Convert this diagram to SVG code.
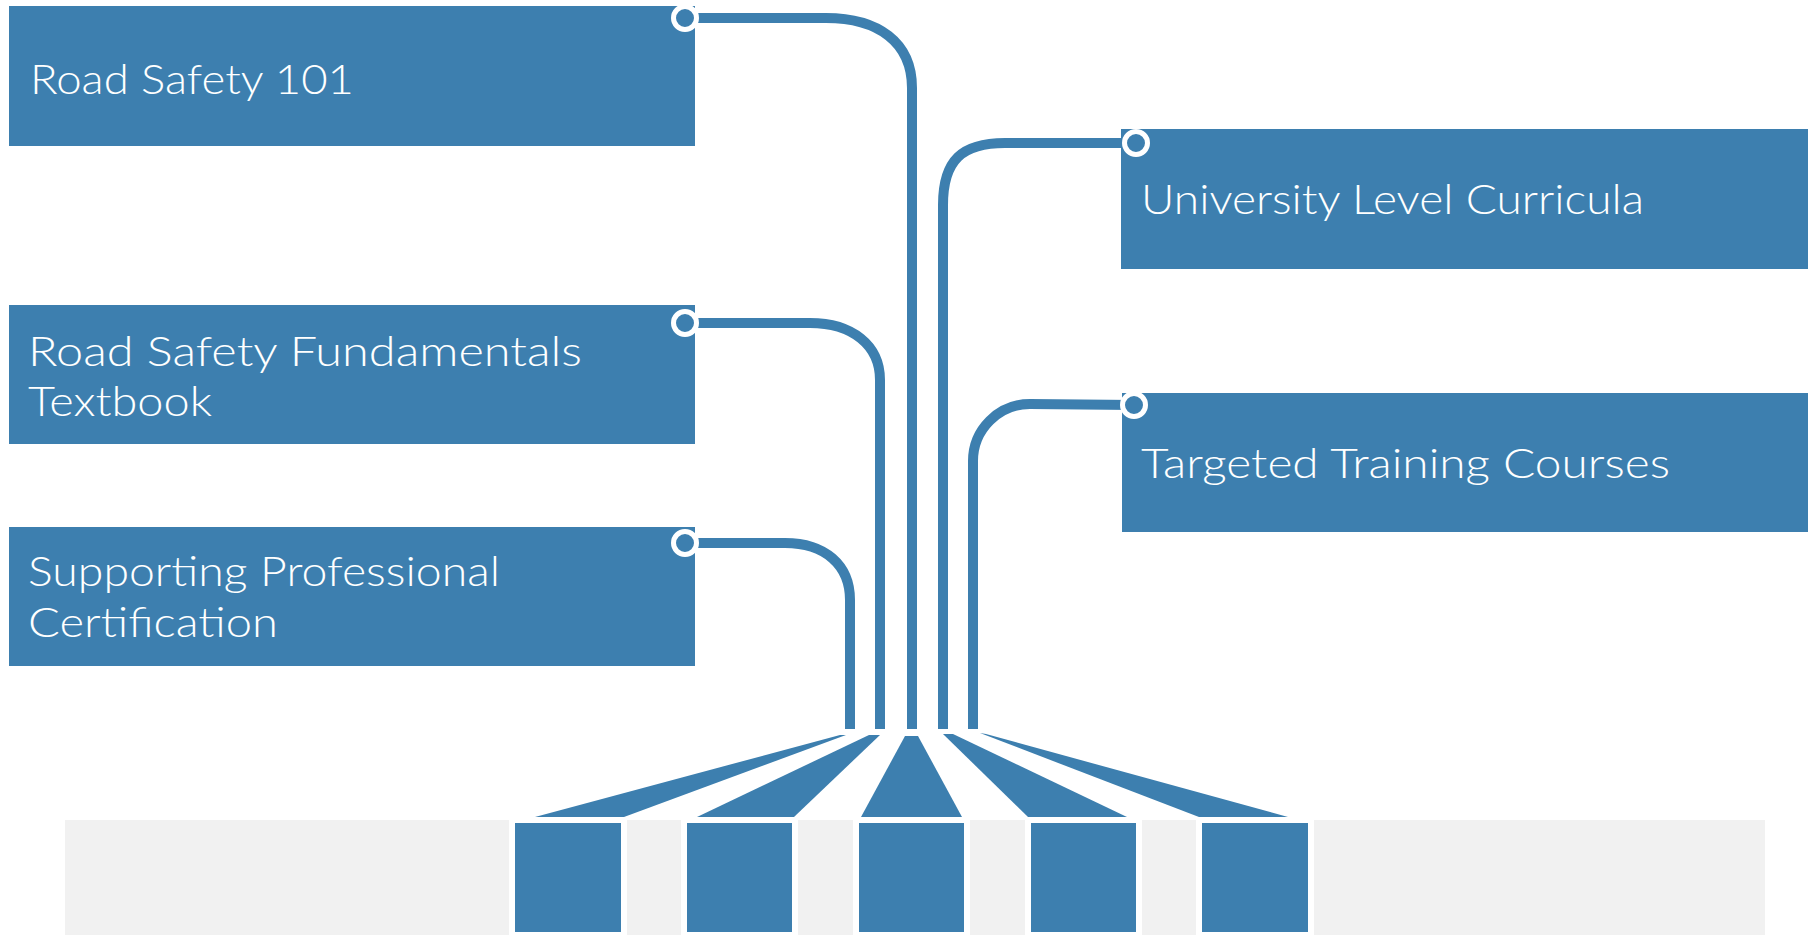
<svg xmlns="http://www.w3.org/2000/svg" width="1815" height="935" viewBox="0 0 1815 935">
<style>
.box{fill:#3D7FAF}
.lbl{fill:#ffffff;font-family:"Lato","DejaVu Sans","Liberation Sans",sans-serif;font-weight:300;font-size:42px}
.con{fill:none;stroke:#3D7FAF;stroke-width:10;stroke-linecap:butt}
.dot{fill:#3D7FAF;stroke:#ffffff;stroke-width:5}
.fan{fill:#3D7FAF}
.sq{fill:#3D7FAF}
.gap{fill:#ffffff}
</style>
<rect width="1815" height="935" fill="#ffffff"/>
<g id="base">
<rect x="65" y="820" width="1700" height="115" fill="#F1F1F1"/>
</g>
<g id="node-road-safety-101">
<rect class="box" x="9" y="6" width="686" height="140"/>
<text class="lbl" x="30" y="94" textLength="324" lengthAdjust="spacingAndGlyphs">Road Safety 101</text>
</g>
<g id="node-fundamentals">
<rect class="box" x="9" y="305" width="686" height="139"/>
<text class="lbl" x="28" y="366" textLength="554" lengthAdjust="spacingAndGlyphs">Road Safety Fundamentals</text>
<text class="lbl" x="28" y="416" textLength="184" lengthAdjust="spacingAndGlyphs">Textbook</text>
</g>
<g id="node-certification">
<rect class="box" x="9" y="527" width="686" height="139"/>
<text class="lbl" x="28" y="586" textLength="472" lengthAdjust="spacingAndGlyphs">Supporting Professional</text>
<text class="lbl" x="28" y="637" textLength="250" lengthAdjust="spacingAndGlyphs">Certification</text>
</g>
<g id="node-university">
<rect class="box" x="1121" y="129" width="687" height="140"/>
<text class="lbl" x="1141" y="214" textLength="503" lengthAdjust="spacingAndGlyphs">University Level Curricula</text>
</g>
<g id="node-targeted">
<rect class="box" x="1122" y="393" width="686" height="139"/>
<text class="lbl" x="1141" y="478" textLength="529" lengthAdjust="spacingAndGlyphs">Targeted Training Courses</text>
</g>
<g id="connectors">
<path class="con" d="M685,18 H826 C878,18 912,42 912,88 V729"/>
<path class="con" d="M685,323 H810 C852,323 880,345 880,380 V729"/>
<path class="con" d="M685,543 H785 C825,543 850,565 850,600 V729"/>
<path class="con" d="M1136,143 H1005 C962,143 943,160 943,205 V729"/>
<path class="con" d="M1134,405 L1030,404 A57 57 0 0 0 973,461 V729"/>
<circle class="dot" cx="685" cy="18" r="11.5"/>
<circle class="dot" cx="685" cy="323" r="11.5"/>
<circle class="dot" cx="685" cy="543" r="11.5"/>
<circle class="dot" cx="1136" cy="143" r="11.5"/>
<circle class="dot" cx="1134" cy="405" r="11.5"/>
<polygon class="fan" points="840,735 846,735 624,817 535,817"/>
<polygon class="fan" points="869,735 880,735 794,817 697,817"/>
<polygon class="fan" points="905,736 918,736 962,817 861,817"/>
<polygon class="fan" points="943,734 953,734 1127,817 1028,817"/>
<polygon class="fan" points="980,733 986,734 1288,817 1199,817"/>
</g>
<g id="step-1">
<rect class="gap" x="509" y="818" width="118" height="117"/>
<rect class="sq" x="515" y="823" width="106" height="109"/>
</g>
<g id="step-2">
<rect class="gap" x="681" y="818" width="117" height="117"/>
<rect class="sq" x="687" y="823" width="105" height="109"/>
</g>
<g id="step-3">
<rect class="gap" x="853" y="818" width="117" height="117"/>
<rect class="sq" x="859" y="823" width="105" height="109"/>
</g>
<g id="step-4">
<rect class="gap" x="1025" y="818" width="117" height="117"/>
<rect class="sq" x="1031" y="823" width="105" height="109"/>
</g>
<g id="step-5">
<rect class="gap" x="1196" y="818" width="118" height="117"/>
<rect class="sq" x="1202" y="823" width="106" height="109"/>
</g>
</svg>
